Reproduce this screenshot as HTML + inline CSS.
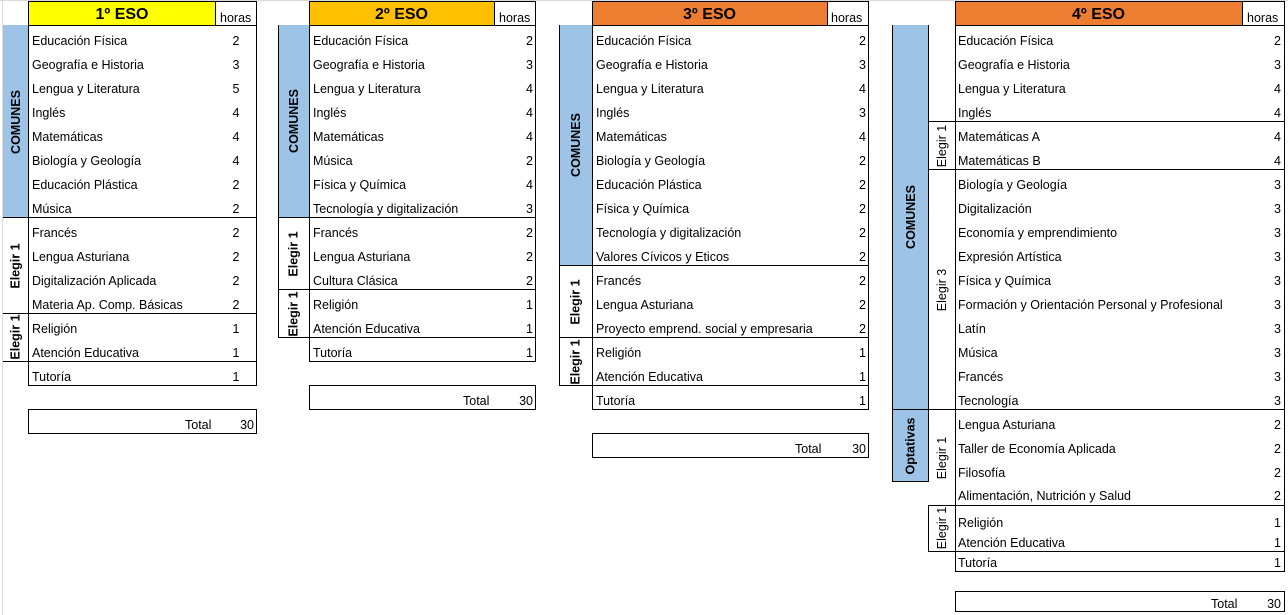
<!DOCTYPE html>
<html><head><meta charset="utf-8"><style>
body{margin:0;width:1288px;height:615px;background:#fff;position:relative;overflow:hidden;font-family:"Liberation Sans",Arial,sans-serif;color:#000}
.b{position:absolute;box-sizing:border-box;border:1px solid #000}
.t{position:absolute;font-size:12.5px;line-height:16px;white-space:nowrap;margin-top:2px}
.n{position:absolute;font-size:12.5px;line-height:16px;text-align:right;width:20px;margin-top:2px}
.h{position:absolute;font-weight:bold;font-size:16px;line-height:24px;text-align:center;margin-top:2px}
.v{position:absolute;display:flex;align-items:center;justify-content:center;box-sizing:border-box}
.v span{transform:rotate(-90deg);white-space:nowrap;font-size:12.5px;font-weight:bold}
.blue{background:#9dc3e6}
</style></head><body>
<div style="position:absolute;left:2px;top:0;width:1px;height:615px;background:#d9d9d9"></div>
<div style="position:absolute;left:0;top:0;width:1288px;height:1px;background:#d9d9d9"></div>

<!-- TABLE 1 -->
<div class="b" style="left:28px;top:1px;width:229px;height:25px;background:#ffff00"></div>
<div class="b" style="left:215px;top:1px;width:42px;height:25px;background:#fff"></div>
<div class="h" style="left:28px;top:1px;width:188px">1º ESO</div>
<div class="t" style="left:220px;top:8px">horas</div>
<div class="v blue" style="left:3px;top:25px;width:26px;height:193px;border-right:1px solid #000"><span>COMUNES</span></div>
<div class="b" style="left:28px;top:25px;width:229px;height:193px"></div>
<div class="v" style="left:3px;top:217px;width:26px;height:97px;border-top:1px solid #000;border-bottom:1px solid #000"><span>Elegir 1</span></div>
<div class="b" style="left:28px;top:217px;width:229px;height:97px"></div>
<div class="v" style="left:3px;top:313px;width:26px;height:49px;border-bottom:1px solid #000"><span>Elegir 1</span></div>
<div class="b" style="left:28px;top:313px;width:229px;height:49px"></div>
<div class="b" style="left:28px;top:361px;width:229px;height:25px"></div>
<div class="b" style="left:28px;top:409px;width:229px;height:25px"></div>
<div class="t" style="left:32px;top:31px">Educación Física</div><div class="n" style="left:226px;top:31px;text-align:center">2</div>
<div class="t" style="left:32px;top:55px">Geografía e Historia</div><div class="n" style="left:226px;top:55px;text-align:center">3</div>
<div class="t" style="left:32px;top:79px">Lengua y Literatura</div><div class="n" style="left:226px;top:79px;text-align:center">5</div>
<div class="t" style="left:32px;top:103px">Inglés</div><div class="n" style="left:226px;top:103px;text-align:center">4</div>
<div class="t" style="left:32px;top:127px">Matemáticas</div><div class="n" style="left:226px;top:127px;text-align:center">4</div>
<div class="t" style="left:32px;top:151px">Biología y Geología</div><div class="n" style="left:226px;top:151px;text-align:center">4</div>
<div class="t" style="left:32px;top:175px">Educación Plástica</div><div class="n" style="left:226px;top:175px;text-align:center">2</div>
<div class="t" style="left:32px;top:199px">Música</div><div class="n" style="left:226px;top:199px;text-align:center">2</div>
<div class="t" style="left:32px;top:223px">Francés</div><div class="n" style="left:226px;top:223px;text-align:center">2</div>
<div class="t" style="left:32px;top:247px">Lengua Asturiana</div><div class="n" style="left:226px;top:247px;text-align:center">2</div>
<div class="t" style="left:32px;top:271px">Digitalización Aplicada</div><div class="n" style="left:226px;top:271px;text-align:center">2</div>
<div class="t" style="left:32px;top:295px">Materia Ap. Comp. Básicas</div><div class="n" style="left:226px;top:295px;text-align:center">2</div>
<div class="t" style="left:32px;top:319px">Religión</div><div class="n" style="left:226px;top:319px;text-align:center">1</div>
<div class="t" style="left:32px;top:343px">Atención Educativa</div><div class="n" style="left:226px;top:343px;text-align:center">1</div>
<div class="t" style="left:32px;top:367px">Tutoría</div><div class="n" style="left:226px;top:367px;text-align:center">1</div>
<div class="t" style="left:185px;top:415px">Total</div><div class="n" style="left:234px;top:415px">30</div>

<!-- TABLE 2 -->
<div class="b" style="left:309px;top:1px;width:227px;height:25px;background:#ffc000"></div>
<div class="b" style="left:494px;top:1px;width:42px;height:25px;background:#fff"></div>
<div class="h" style="left:309px;top:1px;width:185px">2º ESO</div>
<div class="t" style="left:499px;top:8px">horas</div>
<div class="v blue" style="left:278px;top:25px;width:32px;height:193px;border:1px solid #000;border-top:none"><span>COMUNES</span></div>
<div class="b" style="left:309px;top:25px;width:227px;height:193px"></div>
<div class="v" style="left:278px;top:217px;width:32px;height:73px;border:1px solid #000"><span>Elegir 1</span></div>
<div class="b" style="left:309px;top:217px;width:227px;height:73px"></div>
<div class="v" style="left:278px;top:289px;width:32px;height:49px;border:1px solid #000"><span>Elegir 1</span></div>
<div class="b" style="left:309px;top:289px;width:227px;height:49px"></div>
<div class="b" style="left:309px;top:337px;width:227px;height:25px"></div>
<div class="b" style="left:309px;top:385px;width:227px;height:25px"></div>
<div class="t" style="left:313px;top:31px">Educación Física</div><div class="n" style="left:513px;top:31px">2</div>
<div class="t" style="left:313px;top:55px">Geografía e Historia</div><div class="n" style="left:513px;top:55px">3</div>
<div class="t" style="left:313px;top:79px">Lengua y Literatura</div><div class="n" style="left:513px;top:79px">4</div>
<div class="t" style="left:313px;top:103px">Inglés</div><div class="n" style="left:513px;top:103px">4</div>
<div class="t" style="left:313px;top:127px">Matemáticas</div><div class="n" style="left:513px;top:127px">4</div>
<div class="t" style="left:313px;top:151px">Música</div><div class="n" style="left:513px;top:151px">2</div>
<div class="t" style="left:313px;top:175px">Física y Química</div><div class="n" style="left:513px;top:175px">4</div>
<div class="t" style="left:313px;top:199px">Tecnología y digitalización</div><div class="n" style="left:513px;top:199px">3</div>
<div class="t" style="left:313px;top:223px">Francés</div><div class="n" style="left:513px;top:223px">2</div>
<div class="t" style="left:313px;top:247px">Lengua Asturiana</div><div class="n" style="left:513px;top:247px">2</div>
<div class="t" style="left:313px;top:271px">Cultura Clásica</div><div class="n" style="left:513px;top:271px">2</div>
<div class="t" style="left:313px;top:295px">Religión</div><div class="n" style="left:513px;top:295px">1</div>
<div class="t" style="left:313px;top:319px">Atención Educativa</div><div class="n" style="left:513px;top:319px">1</div>
<div class="t" style="left:313px;top:343px">Tutoría</div><div class="n" style="left:513px;top:343px">1</div>
<div class="t" style="left:463px;top:391px">Total</div><div class="n" style="left:513px;top:391px">30</div>

<!-- TABLE 3 -->
<div class="b" style="left:592px;top:1px;width:277px;height:25px;background:#ed7d31"></div>
<div class="b" style="left:827px;top:1px;width:42px;height:25px;background:#fff"></div>
<div class="h" style="left:592px;top:1px;width:235px">3º ESO</div>
<div class="t" style="left:831px;top:8px">horas</div>
<div class="v blue" style="left:559px;top:25px;width:34px;height:241px;border:1px solid #000;border-top:none"><span>COMUNES</span></div>
<div class="b" style="left:592px;top:25px;width:277px;height:241px"></div>
<div class="v" style="left:559px;top:265px;width:34px;height:73px;border:1px solid #000"><span>Elegir 1</span></div>
<div class="b" style="left:592px;top:265px;width:277px;height:73px"></div>
<div class="v" style="left:559px;top:337px;width:34px;height:49px;border:1px solid #000"><span>Elegir 1</span></div>
<div class="b" style="left:592px;top:337px;width:277px;height:49px"></div>
<div class="b" style="left:592px;top:385px;width:277px;height:25px"></div>
<div class="b" style="left:592px;top:433px;width:277px;height:25px"></div>
<div class="t" style="left:596px;top:31px">Educación Física</div><div class="n" style="left:846px;top:31px">2</div>
<div class="t" style="left:596px;top:55px">Geografía e Historia</div><div class="n" style="left:846px;top:55px">3</div>
<div class="t" style="left:596px;top:79px">Lengua y Literatura</div><div class="n" style="left:846px;top:79px">4</div>
<div class="t" style="left:596px;top:103px">Inglés</div><div class="n" style="left:846px;top:103px">3</div>
<div class="t" style="left:596px;top:127px">Matemáticas</div><div class="n" style="left:846px;top:127px">4</div>
<div class="t" style="left:596px;top:151px">Biología y Geología</div><div class="n" style="left:846px;top:151px">2</div>
<div class="t" style="left:596px;top:175px">Educación Plástica</div><div class="n" style="left:846px;top:175px">2</div>
<div class="t" style="left:596px;top:199px">Física y Química</div><div class="n" style="left:846px;top:199px">2</div>
<div class="t" style="left:596px;top:223px">Tecnología y digitalización</div><div class="n" style="left:846px;top:223px">2</div>
<div class="t" style="left:596px;top:247px">Valores Cívicos y Eticos</div><div class="n" style="left:846px;top:247px">2</div>
<div class="t" style="left:596px;top:271px">Francés</div><div class="n" style="left:846px;top:271px">2</div>
<div class="t" style="left:596px;top:295px">Lengua Asturiana</div><div class="n" style="left:846px;top:295px">2</div>
<div class="t" style="left:596px;top:319px">Proyecto emprend. social y empresaria</div><div class="n" style="left:846px;top:319px">2</div>
<div class="t" style="left:596px;top:343px">Religión</div><div class="n" style="left:846px;top:343px">1</div>
<div class="t" style="left:596px;top:367px">Atención Educativa</div><div class="n" style="left:846px;top:367px">1</div>
<div class="t" style="left:596px;top:391px">Tutoría</div><div class="n" style="left:846px;top:391px">1</div>
<div class="t" style="left:795px;top:439px">Total</div><div class="n" style="left:846px;top:439px">30</div>

<!-- TABLE 4 -->
<div class="b" style="left:955px;top:1px;width:330px;height:25px;background:#ed7d31"></div>
<div class="b" style="left:1242px;top:1px;width:43px;height:25px;background:#fff"></div>
<div class="h" style="left:955px;top:1px;width:287px">4º ESO</div>
<div class="t" style="left:1247px;top:8px">horas</div>
<div class="v blue" style="left:892px;top:25px;width:37px;height:385px;border:1px solid #000;border-top:none"><span>COMUNES</span></div>
<div class="v blue" style="left:892px;top:409px;width:37px;height:73px;border:1px solid #000"><span>Optativas</span></div>
<div class="b" style="left:955px;top:25px;width:330px;height:97px"></div>
<div class="v" style="left:928px;top:121px;width:28px;height:49px;border-top:1px solid #000;border-bottom:1px solid #000"><span style="font-weight:normal">Elegir 1</span></div>
<div class="b" style="left:955px;top:121px;width:330px;height:49px"></div>
<div class="v" style="left:928px;top:169px;width:28px;height:241px"><span style="font-weight:normal">Elegir 3</span></div>
<div class="b" style="left:955px;top:169px;width:330px;height:241px"></div>
<div class="v" style="left:928px;top:409px;width:28px;height:97px;border-top:1px solid #000;border-bottom:1px solid #000"><span style="font-weight:normal">Elegir 1</span></div>
<div class="b" style="left:955px;top:409px;width:330px;height:97px"></div>
<div class="v" style="left:928px;top:505px;width:28px;height:47px;border-left:1px solid #000;border-bottom:1px solid #000"><span style="font-weight:normal">Elegir 1</span></div>
<div class="b" style="left:955px;top:505px;width:330px;height:47px"></div>
<div class="b" style="left:955px;top:551px;width:330px;height:21px"></div>
<div class="b" style="left:955px;top:591px;width:330px;height:21px"></div>
<div class="t" style="left:958px;top:31px">Educación Física</div><div class="n" style="left:1261px;top:31px">2</div>
<div class="t" style="left:958px;top:55px">Geografía e Historia</div><div class="n" style="left:1261px;top:55px">3</div>
<div class="t" style="left:958px;top:79px">Lengua y Literatura</div><div class="n" style="left:1261px;top:79px">4</div>
<div class="t" style="left:958px;top:103px">Inglés</div><div class="n" style="left:1261px;top:103px">4</div>
<div class="t" style="left:958px;top:127px">Matemáticas A</div><div class="n" style="left:1261px;top:127px">4</div>
<div class="t" style="left:958px;top:151px">Matemáticas B</div><div class="n" style="left:1261px;top:151px">4</div>
<div class="t" style="left:958px;top:175px">Biología y Geología</div><div class="n" style="left:1261px;top:175px">3</div>
<div class="t" style="left:958px;top:199px">Digitalización</div><div class="n" style="left:1261px;top:199px">3</div>
<div class="t" style="left:958px;top:223px">Economía y emprendimiento</div><div class="n" style="left:1261px;top:223px">3</div>
<div class="t" style="left:958px;top:247px">Expresión Artística</div><div class="n" style="left:1261px;top:247px">3</div>
<div class="t" style="left:958px;top:271px">Física y Química</div><div class="n" style="left:1261px;top:271px">3</div>
<div class="t" style="left:958px;top:295px">Formación y Orientación Personal y Profesional</div><div class="n" style="left:1261px;top:295px">3</div>
<div class="t" style="left:958px;top:319px">Latín</div><div class="n" style="left:1261px;top:319px">3</div>
<div class="t" style="left:958px;top:343px">Música</div><div class="n" style="left:1261px;top:343px">3</div>
<div class="t" style="left:958px;top:367px">Francés</div><div class="n" style="left:1261px;top:367px">3</div>
<div class="t" style="left:958px;top:391px">Tecnología</div><div class="n" style="left:1261px;top:391px">3</div>
<div class="t" style="left:958px;top:415px">Lengua Asturiana</div><div class="n" style="left:1261px;top:415px">2</div>
<div class="t" style="left:958px;top:439px">Taller de Economía Aplicada</div><div class="n" style="left:1261px;top:439px">2</div>
<div class="t" style="left:958px;top:463px">Filosofía</div><div class="n" style="left:1261px;top:463px">2</div>
<div class="t" style="left:958px;top:486px">Alimentación, Nutrición y Salud</div><div class="n" style="left:1261px;top:486px">2</div>
<div class="t" style="left:958px;top:513px">Religión</div><div class="n" style="left:1261px;top:513px">1</div>
<div class="t" style="left:958px;top:533px">Atención Educativa</div><div class="n" style="left:1261px;top:533px">1</div>
<div class="t" style="left:958px;top:553px">Tutoría</div><div class="n" style="left:1261px;top:553px">1</div>
<div class="t" style="left:1211px;top:594px">Total</div><div class="n" style="left:1261px;top:594px">30</div>
</body></html>
